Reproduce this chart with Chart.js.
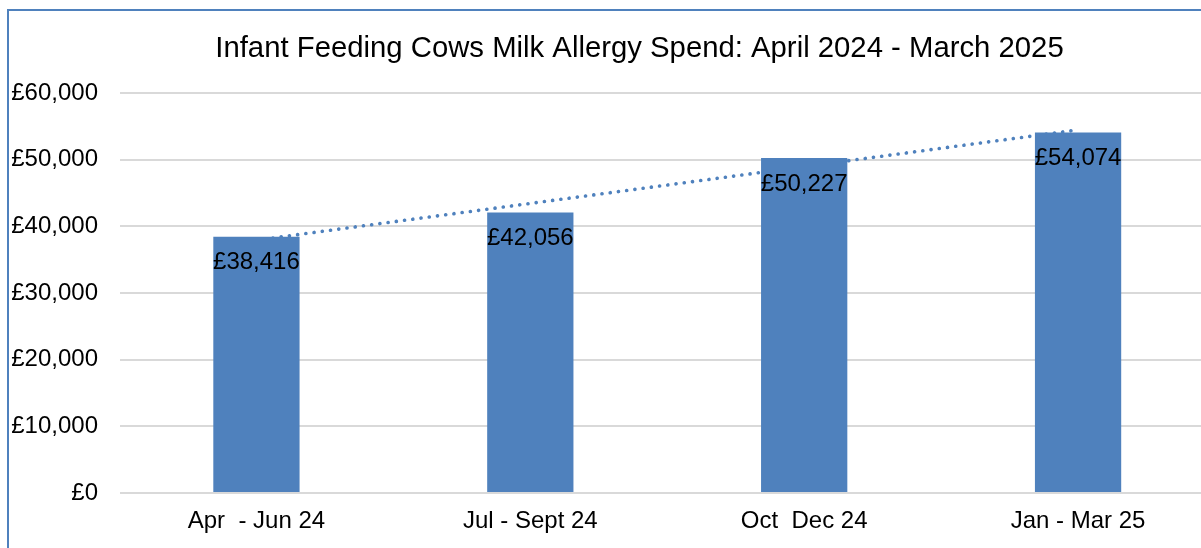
<!DOCTYPE html>
<html>
<head>
<meta charset="utf-8">
<script src="https://cdn.jsdelivr.net/npm/chart.js@4.4.1/dist/chart.umd.min.js"></script>
<style>
  html, body { margin: 0; padding: 0; background: #ffffff; overflow: hidden; width: 1201px; height: 548px; }
  #frame { position: absolute; left: 7px; top: 9px; width: 1300px; height: 700px; border: 2px solid #4f81bd; box-sizing: border-box; }
  #c { position: absolute; left: 0; top: 0; }
</style>
</head>
<body>
<div id="frame"></div>
<canvas id="c" width="1215" height="548"></canvas>
<script>
const chartTitle = 'Infant Feeding Cows Milk Allergy Spend: April 2024 - March 2025';
const categories = ['Apr  - Jun 24', 'Jul - Sept 24', 'Oct  Dec 24', 'Jan - Mar 25'];
const spend = [38416, 42056, 50227, 54074];
const trendline = [37922, 43436, 48951, 54465];
const yTicks = [0, 10000, 20000, 30000, 40000, 50000, 60000];

const FONT = "'Liberation Sans', Arial, sans-serif";
const BLUE = '#4f81bd';

function fmt(v) { return '£' + v.toLocaleString('en-GB'); }

const labelPlugin = {
  id: 'barLabels',
  afterDatasetsDraw(chart) {
    const ctx = chart.ctx;
    const meta = chart.getDatasetMeta(0);
    ctx.save();
    ctx.font = '24px ' + FONT;
    ctx.fillStyle = '#000000';
    ctx.textAlign = 'center';
    ctx.textBaseline = 'middle';
    meta.data.forEach((bar, i) => {
      ctx.fillText(fmt(spend[i]), bar.x, bar.y + 26);
    });
    ctx.restore();
  }
};

const titleShift = {
  id: 'titleShift',
  afterLayout(chart) {
    if (chart.titleBlock) { chart.titleBlock.left = 64; }
  }
};

new Chart(document.getElementById('c'), {
  data: {
    labels: categories,
    datasets: [
      {
        type: 'bar',
        data: spend,
        backgroundColor: BLUE,
        borderWidth: 0,
        barPercentage: 0.315,
        categoryPercentage: 1.0,
        order: 1
      },
      {
        type: 'line',
        data: trendline,
        borderColor: BLUE,
        borderWidth: 3.6,
        borderDash: [0.1, 8.2],
        borderCapStyle: 'round',
        pointRadius: 0,
        fill: false,
        tension: 0,
        order: 2
      }
    ]
  },
  options: {
    responsive: false,
    animation: false,
    devicePixelRatio: 1,
    layout: { padding: 0 },
    plugins: {
      legend: { display: false },
      tooltip: { enabled: false },
      title: {
        display: true,
        text: chartTitle,
        color: '#000000',
        font: { family: FONT, size: 29.3, weight: 'normal', lineHeight: 1.2 },
        padding: { top: 31.4, bottom: 26.4 }
      }
    },
    scales: {
      x: {
        offset: true,
        grid: { display: false, drawTicks: false },
        border: { display: false },
        ticks: { color: '#000000', font: { family: FONT, size: 24 }, padding: 13.6, maxRotation: 0, autoSkip: false },
        afterFit(s) { s.height = 55; }
      },
      y: {
        min: 0,
        max: 60000,
        afterBuildTicks(s) { s.ticks = yTicks.map(v => ({ value: v })); },
        grid: { color: '#d9d9d9', lineWidth: 2, drawTicks: false },
        border: { display: false },
        ticks: { color: '#000000', font: { family: FONT, size: 24 }, padding: 21.5, callback: v => fmt(v) },
        afterFit(s) { s.width = 119.5; }
      }
    }
  },
  plugins: [labelPlugin, titleShift]
});
</script>
</body>
</html>
